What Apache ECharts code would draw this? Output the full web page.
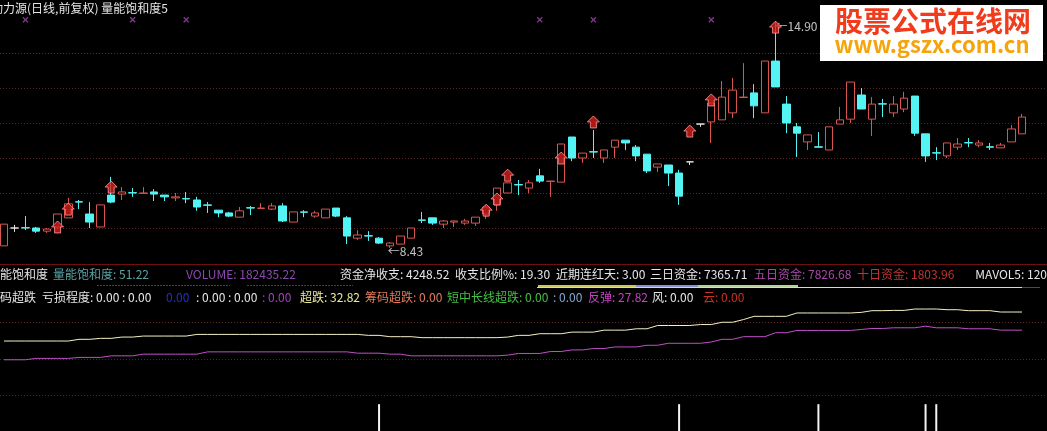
<!DOCTYPE html>
<html>
<head>
<meta charset="utf-8">
<script src="https://cdn.jsdelivr.net/npm/echarts@6/dist/echarts.min.js"></script>
<style>
html,body{margin:0;padding:0;background:#000;overflow:hidden;}
#c{width:1047px;height:431px;}
</style>
</head>
<body>
<div id="c"></div>
<script>
// ---- daily bars (96 sessions) ----
const days = Array.from({length: 96}, (_, i) => 'D' + (i + 1));
const opens = [8.49,9.00,9.01,9.00,8.91,9.03,9.29,9.75,9.40,9.03,9.94,9.97,10.01,9.99,10.03,9.94,9.86,9.84,9.80,9.66,
  9.51,9.43,9.31,9.58,9.56,9.54,9.63,9.17,9.46,9.34,9.29,9.57,9.29,8.71,8.78,8.71,8.49,8.54,8.71,9.23,
  9.29,9.11,9.17,9.14,9.14,9.40,9.66,10.00,10.24,10.14,10.49,10.33,10.31,11.60,11.00,11.18,11.00,11.31,11.51,11.31,
  11.11,10.74,10.80,10.57,10.89,11.97,12.03,12.09,12.29,12.73,12.86,12.29,13.77,12.54,11.89,11.46,11.32,11.23,11.97,12.11,
  12.80,12.11,12.55,12.29,12.40,12.77,11.69,11.15,11.06,11.31,11.44,11.37,11.32,11.29,11.46,11.69];
const closes = [9.11,9.00,9.00,8.91,8.97,9.40,9.69,9.74,9.17,9.66,9.74,10.03,10.00,10.00,9.97,9.89,9.89,9.83,9.60,9.65,
  9.43,9.34,9.49,9.57,9.57,9.63,9.20,9.46,9.45,9.43,9.54,9.34,8.77,8.80,8.77,8.57,8.57,8.77,9.00,9.22,
  9.14,9.20,9.20,9.20,9.31,9.60,10.14,10.29,10.23,10.29,10.34,10.34,11.40,11.00,11.14,11.17,11.23,11.51,11.43,11.06,
  10.63,10.83,10.57,9.91,10.89,11.97,12.57,12.74,12.94,12.74,12.49,13.77,13.03,12.00,11.71,11.66,11.31,11.89,12.09,13.17,
  12.40,12.54,12.54,12.54,12.71,11.71,11.06,11.14,11.43,11.40,11.43,11.43,11.31,11.37,11.83,12.17];
const lows = [8.49,8.89,8.94,8.86,8.86,8.97,9.29,9.54,9.00,9.03,9.71,9.80,9.89,9.99,9.77,9.77,9.77,9.71,9.49,9.43,
  9.31,9.31,9.31,9.37,9.56,9.51,9.17,9.17,9.31,9.29,9.29,9.31,8.54,8.66,8.63,8.54,8.43,8.54,8.71,9.14,
  9.09,9.00,9.03,9.09,9.06,9.26,9.49,10.00,9.94,10.00,10.29,9.89,10.31,10.91,10.86,11.00,10.86,11.00,11.23,10.91,
  10.57,10.60,10.20,9.66,10.80,11.89,11.43,12.09,12.14,12.73,12.14,12.29,13.03,11.71,11.03,11.23,11.29,11.23,11.97,12.00,
  12.40,11.63,12.17,12.17,12.31,11.63,10.89,10.94,11.00,11.23,11.31,11.31,11.23,11.29,11.46,11.69];
const highs = [9.11,9.09,9.34,9.03,9.00,9.40,9.86,9.80,9.74,9.66,10.46,10.17,10.14,10.17,10.11,9.94,10.00,10.03,9.89,9.74,
  9.51,9.46,9.60,9.63,9.71,9.71,9.71,9.46,9.51,9.49,9.54,9.57,9.34,8.94,8.91,8.74,8.60,8.77,9.00,9.46,
  9.29,9.23,9.21,9.26,9.31,9.66,10.14,10.29,10.37,10.37,10.69,10.34,11.40,11.60,11.14,11.80,11.23,11.51,11.51,11.37,
  11.11,10.83,10.80,10.66,10.89,11.97,12.57,13.20,13.29,13.71,13.11,13.77,14.90,12.77,12.00,11.66,11.74,11.89,12.46,13.17,
  13.00,12.74,12.69,12.77,12.89,12.77,11.69,11.31,11.43,11.57,11.57,11.51,11.43,11.43,11.94,12.26];

// buy-signal arrows and top markers
const arrowDays = [5, 6, 10, 45, 46, 47, 52, 55, 64, 66, 72];
const arrowPrices = [9.03, 9.54, 10.17, 9.51, 9.83, 10.51, 11.00, 12.03, 11.77, 12.66, 14.74];
const crossDays = [2, 12, 17, 50, 55, 66];
const crossPrices = [14.95, 14.95, 14.95, 14.95, 14.95, 14.95];
const priceGrid = [9, 10, 11, 12, 13, 14];

// lower indicator: 超跌 (cream) and 反弹 (magenta)
const chaoDie = [24.82,24.82,24.82,24.82,24.82,24.82,24.82,25.29,25.29,25.56,25.56,25.91,25.91,26.19,26.19,26.19,26.19,26.19,26.65,26.65,
  26.65,26.65,26.65,26.65,26.65,26.65,26.65,26.65,26.65,26.65,26.65,26.65,26.65,26.65,26.38,26.38,26.02,26.02,26.02,25.75,
  25.75,25.75,25.75,25.75,25.75,25.75,25.75,25.91,26.38,26.38,26.84,26.84,26.84,27.28,27.28,27.28,27.82,27.82,27.82,28.20,
  28.20,29.10,29.10,29.10,29.10,29.37,29.37,30.00,30.00,30.74,31.63,31.63,31.63,31.63,32.56,32.56,32.56,32.56,32.56,32.56,
  32.72,33.19,33.19,33.27,33.27,33.65,33.65,33.65,33.46,33.46,33.19,33.19,33.19,32.82,32.82,32.82];
const fanTan = [19.65,19.65,19.65,20.03,20.03,20.03,20.03,20.30,20.30,20.30,20.74,20.74,20.74,21.20,21.20,21.20,21.20,21.20,21.20,21.83,
  21.83,21.83,21.83,21.83,21.83,21.83,21.83,21.83,21.83,21.83,21.83,21.83,21.83,21.47,21.47,21.47,21.20,21.20,20.74,20.74,
  20.74,20.74,20.74,20.74,20.74,20.74,20.74,20.93,21.39,21.39,21.39,21.93,21.93,22.37,22.37,22.75,22.75,23.19,23.19,23.19,
  23.65,23.65,24.20,24.20,24.20,24.20,24.55,25.29,25.29,26.02,26.02,26.02,27.11,27.11,27.74,27.74,27.74,27.74,27.74,27.74,
  28.01,28.28,28.28,28.47,28.47,28.47,28.91,28.47,28.47,28.47,28.20,28.20,28.20,27.82,27.82,27.82];
const signalDays = [35, 63, 76, 86, 87];
const signalLevel = 7.4;
const levelGrid = [10, 20, 30];

// header readings
const stockName = '动力源';
const formulaName = '量能饱和度5';
const liangNeng = 51.22, volume = 182435.22;
const netFlow = 4248.52, flowRatio = 19.30, redDays = 3.00;
const flow3 = 7365.71, flow5 = 7826.68, flow10 = 1803.96;
const lossA = [0.00, 0.00, 0.00, 0.00, 0.00, 0.00];
const chaoDieNow = 32.82, chouMa = 0.00, duanZhong = [0.00, 0.00], fanTanNow = 27.82, feng = 0.00, yun = 0.00;

const RED = '#d85550', CYAN = '#54f4f4', WHITE = '#e6e6e6';
const FONT = '"Noto Sans CJK SC", "Noto Sans", sans-serif';
const f2 = v => v.toFixed(2);

const candles = days.map((d, i) => {
  const item = { value: [opens[i], closes[i], lows[i], highs[i]] };
  if (opens[i] === closes[i]) {
    item.itemStyle = { color: WHITE, color0: WHITE, borderColor: WHITE, borderColor0: WHITE };
  }
  return item;
});

let lowIdx = 0, highIdx = 0;
lows.forEach((v, i) => { if (v < lows[lowIdx]) lowIdx = i; });
highs.forEach((v, i) => { if (v > highs[highIdx]) highIdx = i; });

const chart = echarts.init(document.getElementById('c'), null, { renderer: 'canvas' });

chart.setOption({
  backgroundColor: '#000',
  animation: false,
  grid: [
    { left: 4, right: 25, top: 0.5, height: 262.5 },
    { left: 4, right: 25, top: 286, height: 146.8 }
  ],
  xAxis: [
    { type: 'category', gridIndex: 0, data: days, boundaryGap: false, show: false },
    { type: 'category', gridIndex: 1, data: days, boundaryGap: false, show: false }
  ],
  yAxis: [
    { type: 'value', gridIndex: 0, min: 8, max: 15.5, show: false, splitLine: { show: false } },
    { type: 'value', gridIndex: 1, min: 0, max: 40, show: false, splitLine: { show: false } }
  ],
  series: [
    {
      type: 'candlestick', xAxisIndex: 0, yAxisIndex: 0, clip: false,
      barWidth: 8, data: candles,
      itemStyle: { color: '#000', color0: CYAN, borderColor: RED, borderColor0: CYAN, borderWidth: 1 }
    },
    {
      type: 'scatter', xAxisIndex: 0, yAxisIndex: 0, clip: false, z: 5,
      symbol: 'path://M6 0 L12 6 L9 6 L9 12 L3 12 L3 6 L0 6 Z', symbolSize: [12, 12],
      itemStyle: { color: '#d8201c', borderColor: '#ff9a9a', borderWidth: 1 },
      data: arrowDays.map((d, k) => [d, arrowPrices[k]])
    },
    {
      type: 'scatter', xAxisIndex: 0, yAxisIndex: 0, clip: false,
      symbol: 'path://M0 0 L5 5 M5 0 L0 5', symbolSize: 5,
      itemStyle: { color: 'none', borderColor: '#a848b8', borderWidth: 1.2 },
      data: crossDays.map((d, k) => [d, crossPrices[k]])
    },
    {
      type: 'scatter', xAxisIndex: 0, yAxisIndex: 0, clip: false, symbolSize: 0,
      label: {
        show: true, position: 'right', distance: 0, color: '#f0f0f0',
        fontFamily: FONT, fontSize: 12, formatter: p => '←' + f2(p.value[1])
      },
      data: [
        { value: [lowIdx, lows[lowIdx]], label: { offset: [-2, 3] } },
        { value: [highIdx, highs[highIdx]], label: { offset: [0, 5] } }
      ]
    },
    {
      type: 'line', xAxisIndex: 1, yAxisIndex: 1, data: chaoDie, showSymbol: false,
      lineStyle: { color: '#f4f0c4', width: 1 }, z: 3
    },
    {
      type: 'line', xAxisIndex: 1, yAxisIndex: 1, data: fanTan, showSymbol: false,
      lineStyle: { color: '#c050c8', width: 1 }, z: 3
    },
    {
      type: 'bar', xAxisIndex: 1, yAxisIndex: 1, barWidth: 2, clip: false,
      itemStyle: { color: '#f4f4f4' },
      data: days.map((d, i) => signalDays.indexOf(i) >= 0 ? signalLevel : null)
    }
  ]
});

// dotted level lines across the full width, placed through the axes
const W = 1047;
const g = [];
const dotted = y => ({
  type: 'line', silent: true, z: 0,
  shape: { x1: 0, y1: y, x2: W, y2: y },
  style: { stroke: '#5e2424', lineWidth: 1, lineDash: [1, 2] }
});
priceGrid.forEach(p => {
  const y = Math.round(chart.convertToPixel({ gridIndex: 0 }, [0, p])[1]) + 0.5;
  g.push(dotted(y));
});
levelGrid.forEach(v => {
  const y = Math.round(chart.convertToPixel({ gridIndex: 1 }, [0, v])[1]) + 0.5;
  g.push(dotted(y));
});

// panel separators and the clipped colour strip of the hidden sub-row
const hline = (x1, x2, y, stroke, extra) => Object.assign({
  type: 'line', silent: true, shape: { x1, y1: y, x2, y2: y }, style: { stroke, lineWidth: 1 }
}, extra || {});
g.push(hline(0, W, 264.5, '#6e1010'));
g.push(hline(97, 230, 285.5, '#9a6a8e', { style: { stroke: '#9a6a8e', lineWidth: 1, lineDash: [2, 1], opacity: 0.55 } }));
g.push(hline(247, 353, 285.5, '#8e7090', { style: { stroke: '#8e7090', lineWidth: 1, lineDash: [2, 1], opacity: 0.5 } }));
g.push({ type: 'rect', silent: true, shape: { x: 538, y: 285, width: 98, height: 2 }, style: { fill: '#c8c85a' } });
g.push({ type: 'rect', silent: true, shape: { x: 636, y: 285, width: 62, height: 2 }, style: { fill: '#8890d0' } });
g.push({ type: 'rect', silent: true, shape: { x: 698, y: 285, width: 100, height: 2 }, style: { fill: '#b4d098' } });
g.push(hline(537, 1022, 287.5, '#d8d8d8'));
g.push(hline(1022, 1040, 287.5, '#b02020'));

const txt = (x, y, text, fill, align) => ({
  type: 'text', silent: true, z: 10,
  style: { x, y, text, fill, font: '12px ' + FONT, textAlign: align || 'left', textVerticalAlign: 'middle' }
});

// title line
g.push(txt(-9, 8, stockName + '(日线,前复权) ' + formulaName, WHITE));

// header row of the volume panel
const r1 = 274;
g.push(txt(-12, r1, '量能饱和度', WHITE));
g.push(txt(53, r1, '量能饱和度: ' + f2(liangNeng), '#5aa4a4'));
g.push(txt(186, r1, 'VOLUME: ' + f2(volume), '#8c48b0'));
g.push(txt(340, r1, '资金净收支: ' + f2(netFlow), WHITE));
g.push(txt(455, r1, '收支比例%: ' + f2(flowRatio), WHITE));
g.push(txt(556, r1, '近期连红天: ' + f2(redDays), WHITE));
g.push(txt(650, r1, '三日资金: ' + f2(flow3), WHITE));
g.push(txt(754, r1, '五日资金: ' + f2(flow5), '#a848a8'));
g.push(txt(857, r1, '十日资金: ' + f2(flow10), '#c03434'));
g.push(txt(1047, r1, 'MAVOL5: 120', WHITE, 'right'));

// header row of the chip panel
const r2 = 297;
g.push(txt(-12, r2, '筹码超跌', WHITE));
g.push(txt(42, r2, '亏损程度: ' + f2(lossA[0]) + ' : ' + f2(lossA[1]), WHITE));
g.push(txt(166, r2, f2(lossA[2]), '#2030c8'));
g.push(txt(196, r2, ': ' + f2(lossA[3]) + ' : ' + f2(lossA[4]), WHITE));
g.push(txt(262, r2, ': ' + f2(lossA[5]), '#a040c0'));
g.push(txt(300, r2, '超跌: ' + f2(chaoDieNow), '#ecec9c'));
g.push(txt(365, r2, '筹码超跌: ' + f2(chouMa), '#e47a5a'));
g.push(txt(447, r2, '短中长线超跌: ' + f2(duanZhong[0]), '#44c044'));
g.push(txt(553, r2, ': ' + f2(duanZhong[1]), '#84a8d0'));
g.push(txt(588, r2, '反弹: ' + f2(fanTanNow), '#c444c4'));
g.push(txt(652, r2, '风: ' + f2(feng), WHITE));
g.push(txt(703, r2, '云: ' + f2(yun), '#c83020'));

// site badge, top right
g.push({ type: 'rect', silent: true, z: 20, shape: { x: 820, y: 5, width: 223, height: 56 }, style: { fill: '#ffffff' } });
g.push({ type: 'text', silent: true, z: 21, style: { x: 933, y: 21, text: '股票公式在线网', fill: '#f03c1c', font: 'bold 28px ' + FONT, textAlign: 'center', textVerticalAlign: 'middle' } });
g.push({ type: 'text', silent: true, z: 21, style: { x: 932, y: 56, text: 'www.gszx.com.cn', fill: '#f6a40c', font: 'bold 22px ' + FONT, textAlign: 'center', textVerticalAlign: 'bottom' } });

chart.setOption({ graphic: g });
</script>
</body>
</html>
